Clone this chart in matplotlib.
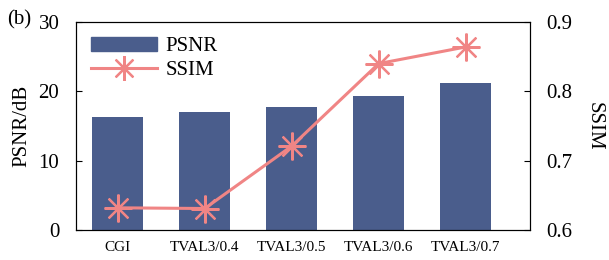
import numpy as np
import matplotlib.pyplot as plt
from matplotlib.patches import Patch
from matplotlib.lines import Line2D

plt.rcParams['font.family'] = 'Liberation Serif'

methods = ['CGI', 'TVAL3/0.4', 'TVAL3/0.5', 'TVAL3/0.6', 'TVAL3/0.7']
psnr = [16.3, 17.0, 17.7, 19.3, 21.2]
ssim = [0.632, 0.631, 0.721, 0.840, 0.864]

bar_color = '#4a5d8c'
line_color = '#f08585'

fig = plt.figure(figsize=(6.09, 2.6), dpi=100)
ax = fig.add_axes([76 / 609, 30 / 260, 454 / 609, 208 / 260])
x = np.arange(len(methods))
ax.bar(x, psnr, width=0.59, color=bar_color)
ax.set_ylim(0, 30)
ax.set_yticks([0, 10, 20, 30])
ax.set_xlim(-0.48, 4.74)
ax.set_xticks(x)
ax.set_xticklabels(methods, fontsize=11)
ax.tick_params(axis='x', length=0, pad=8)
ax.tick_params(axis='y', direction='in', labelsize=15, length=4, pad=12)
ax.set_ylabel('PSNR/dB', fontsize=15, labelpad=5)

ax2 = ax.twinx()
ax2.plot(x, ssim, color=line_color, lw=2.2, marker=(8, 2, 0), ms=20, mew=1.6)
ax2.set_ylim(0.6, 0.9)
ax2.set_yticks([0.6, 0.7, 0.8, 0.9])
ax2.tick_params(axis='y', direction='in', labelsize=15, length=4, pad=12)
ax2.set_ylabel('SSIM', fontsize=15, rotation=270, labelpad=22)

handles = [Patch(color=bar_color),
           Line2D([], [], color=line_color, lw=2.2, marker=(8, 2, 0), ms=18, mew=1.6)]
ax.legend(handles, ['PSNR', 'SSIM'], loc='upper left', frameon=False,
          fontsize=15, handlelength=3.2, handletextpad=0.4, labelspacing=0.2,
          borderaxespad=0.3)

fig.text(7 / 609, 1 - 20 / 260, '(b)', fontsize=15, va='center')

fig.savefig('out.png', dpi=100)
